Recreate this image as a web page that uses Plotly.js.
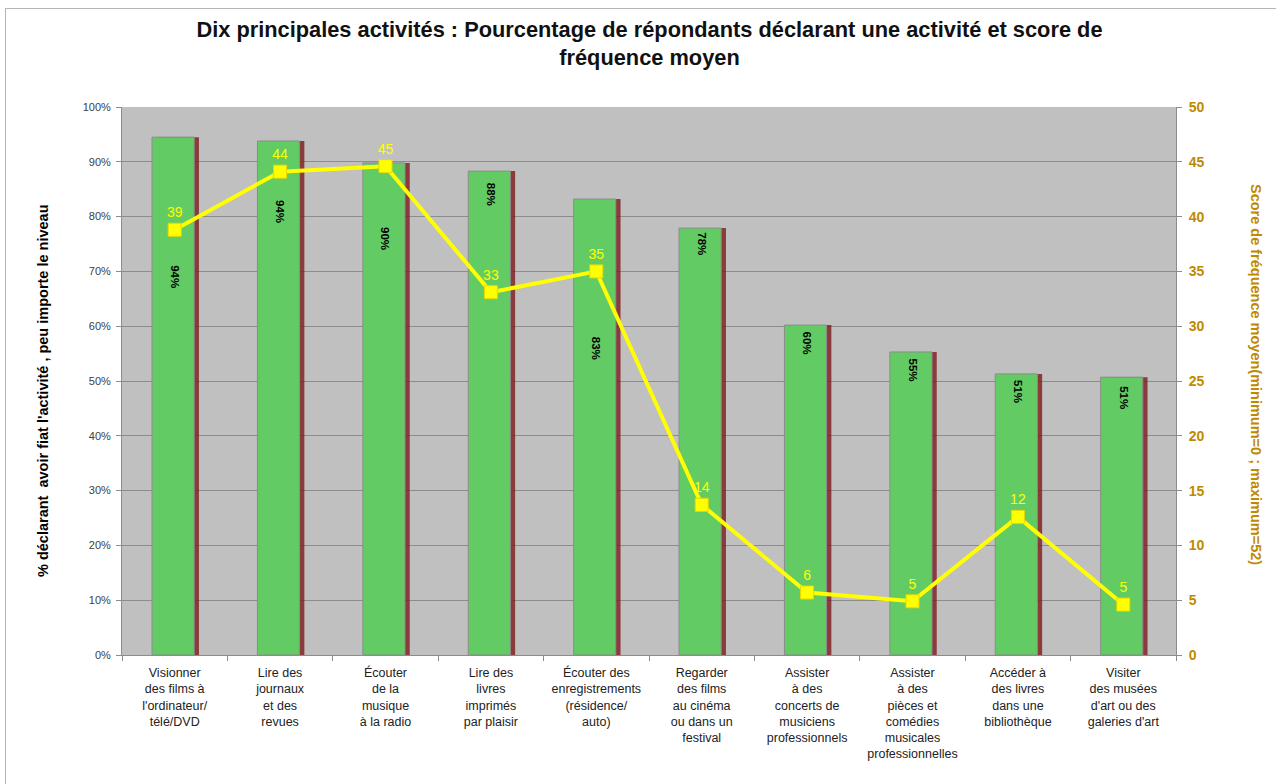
<!DOCTYPE html>
<html>
<head>
<meta charset="utf-8">
<script src="https://cdn.plot.ly/plotly-3.0.1.min.js"></script>
<style>
  html, body { margin: 0; padding: 0; background: #ffffff; }
  #wrap { position: absolute; left: 0; top: 0; width: 1276px; height: 784px; }
  #frame { position: absolute; left: 5px; top: 8px; width: 1290px; height: 800px; border-left: 1px solid #b5b5b5; border-top: 1px solid #b5b5b5; pointer-events: none; }
  #chart { position: absolute; left: 0; top: 0; width: 1276px; height: 784px; }
</style>
</head>
<body>
<div id="wrap">
  <div id="chart"></div>
  <div id="frame"></div>
</div>
<script>
// ---- data ----
const categories = [
  "Visionner<br>des films à<br>l'ordinateur/<br>télé/DVD",
  "Lire des<br>journaux<br>et des<br>revues",
  "Écouter<br>de la<br>musique<br>à la radio",
  "Lire des<br>livres<br>imprimés<br>par plaisir",
  "Écouter des<br>enregistrements<br>(résidence/<br>auto)",
  "Regarder<br>des films<br>au cinéma<br>ou dans un<br>festival",
  "Assister<br>à des<br>concerts de<br>musiciens<br>professionnels",
  "Assister<br>à des<br>pièces et<br>comédies<br>musicales<br>professionnelles",
  "Accéder à<br>des livres<br>dans une<br>bibliothèque",
  "Visiter<br>des musées<br>d'art ou des<br>galeries d'art"
];
const pctDeclaring = [94.5, 93.8, 89.8, 88.3, 83.2, 77.9, 60.2, 55.3, 51.3, 50.7];
const pctLabels = ["94%", "94%", "90%", "88%", "83%", "78%", "60%", "55%", "51%", "51%"];
const freqScore = [38.8, 44.1, 44.6, 33.1, 35.0, 13.7, 5.7, 4.9, 12.6, 4.6];
const freqLabels = ["39", "44", "45", "33", "35", "14", "6", "5", "12", "5"];

// label placement (in % units on the left axis) for the rotated bar labels
const barLabelPos = [69, 81, 76, 84, 56, 75, 57, 52, 48, 47];

const titleText = "Dix principales activités : Pourcentage de répondants déclarant une activité et score de<br>fréquence moyen";
const leftTitle = "% déclarant  avoir fiat l'activité , peu importe le niveau";
const rightTitle = "Score de fréquence moyen(minimum=0 ; maximum=52)";

const FONT = "Liberation Sans, Arial, sans-serif";
const GOLD = "#BF8A00";

const shadowTrace = {
  type: "bar",
  x: categories,
  y: pctDeclaring,
  width: 0.4,
  offset: -0.17,
  marker: { color: "rgba(125,25,25,0.8)", line: { width: 0 } },
  hoverinfo: "skip",
  showlegend: false
};

const barTrace = {
  type: "bar",
  x: categories,
  y: pctDeclaring,
  width: 0.4,
  offset: -0.215,
  marker: { color: "#63CB63", line: { color: "#8c8c8c", width: 1 } },
  showlegend: false
};

const lineTrace = {
  type: "scatter",
  mode: "lines+markers+text",
  x: categories,
  y: freqScore,
  yaxis: "y2",
  text: freqLabels,
  textposition: "top center",
  textfont: { family: FONT, size: 14, color: "#FFFF00" },
  line: { color: "#FFFF00", width: 4 },
  marker: { symbol: "square", size: 13, color: "#FFFF00", line: { color: "#E8D800", width: 1 } },
  cliponaxis: false,
  showlegend: false
};

const annotations = pctLabels.map((t, i) => ({
  x: categories[i],
  y: barLabelPos[i],
  xref: "x",
  yref: "y",
  text: "<b>" + t + "</b>",
  showarrow: false,
  textangle: 90,
  font: { family: FONT, size: 11.5, color: "#000000" }
}));

// axis titles drawn as rotated annotations
annotations.push({
  xref: "paper", yref: "paper",
  x: (43 - 122) / 1054, y: 0.5 - (391 - 381) / 548,
  xanchor: "center", yanchor: "middle",
  text: "<b>" + leftTitle + "</b>",
  showarrow: false,
  textangle: -90,
  font: { family: FONT, size: 14.5, color: "#000000" }
});
annotations.push({
  xref: "paper", yref: "paper",
  x: 1.0 + (1256 - 1176) / 1054, y: 0.5 - (374 - 381) / 548,
  xanchor: "center", yanchor: "middle",
  text: "<b>" + rightTitle + "</b>",
  showarrow: false,
  textangle: 90,
  font: { family: FONT, size: 14.5, color: GOLD }
});

const layout = {
  width: 1276,
  height: 784,
  margin: { l: 122, r: 100, t: 107, b: 129, pad: 0 },
  paper_bgcolor: "rgba(0,0,0,0)",
  plot_bgcolor: "#C0C0C0",
  barmode: "overlay",
  bargap: 0.6,
  title: {
    text: "<b>" + titleText + "</b>",
    font: { family: FONT, size: 21.8, color: "#111111" },
    xref: "container", yref: "container",
    x: 0.509, xanchor: "center",
    y: 1 - 37 / 784, yanchor: "middle"
  },
  xaxis: {
    type: "category",
    range: [-0.5, 9.5],
    tickson: "boundaries",
    ticks: "outside",
    ticklen: 5,
    tickcolor: "#8c8c8c",
    showline: true,
    linecolor: "#8c8c8c",
    linewidth: 1,
    showgrid: false,
    tickangle: 0,
    ticklabelstandoff: 6,
    tickfont: { family: FONT, size: 12.5, color: "#222222" },
    fixedrange: true
  },
  yaxis: {
    range: [0, 100],
    dtick: 10,
    ticksuffix: "%",
    ticks: "outside",
    ticklen: 5,
    tickcolor: "#8c8c8c",
    showline: true,
    linecolor: "#8c8c8c",
    showgrid: true,
    gridcolor: "#8c8c8c",
    gridwidth: 1,
    zeroline: false,
    ticklabelstandoff: 3,
    tickfont: { family: FONT, size: 11, color: "#404040" },
    fixedrange: true
  },
  yaxis2: {
    overlaying: "y",
    side: "right",
    range: [0, 50],
    dtick: 5,
    ticks: "outside",
    ticklen: 5,
    tickcolor: "#8c8c8c",
    showline: true,
    linecolor: "#8c8c8c",
    showgrid: false,
    zeroline: false,
    ticklabelstandoff: 4,
    tickfont: { family: FONT, size: 14, color: GOLD, weight: "bold" },
    fixedrange: true
  },
  annotations: annotations,
  font: { family: FONT }
};

Plotly.newPlot("chart", [shadowTrace, barTrace, lineTrace], layout, { displayModeBar: false, staticPlot: true });
</script>
</body>
</html>
